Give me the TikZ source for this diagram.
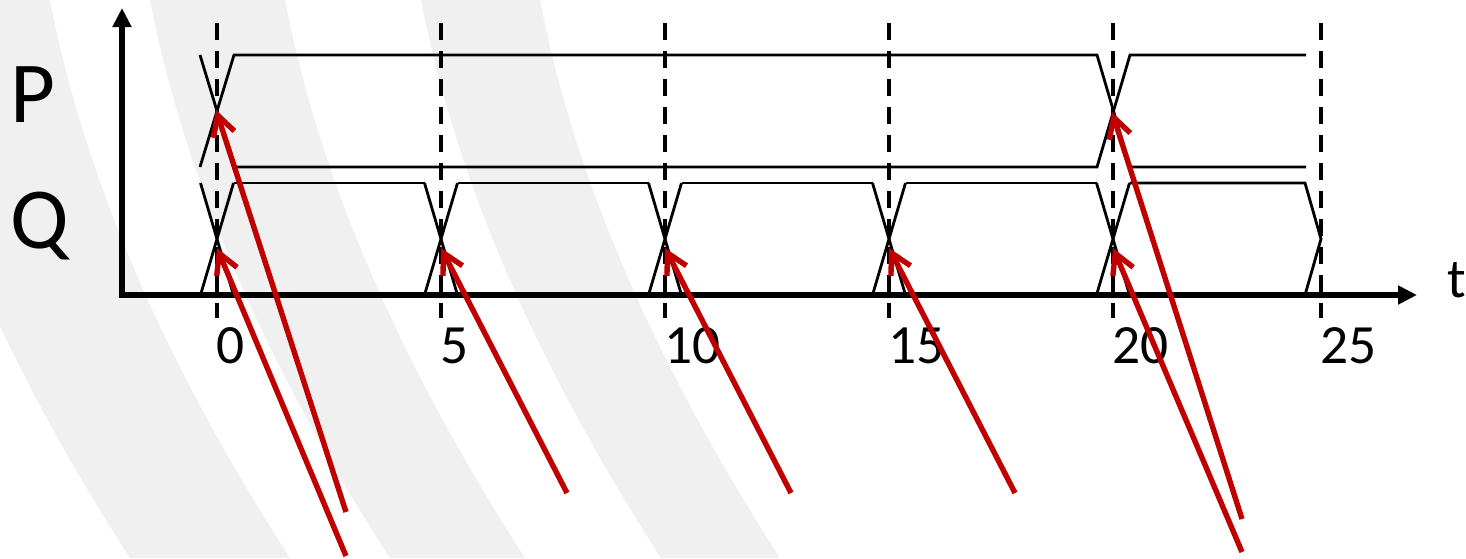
\documentclass[tikz,border=0pt]{standalone}
\usepackage{fontspec}
\setmainfont{Carlito}
\usepackage{tikz}
\usetikzlibrary{arrows.meta}
\definecolor{sigred}{RGB}{192,0,0}
\definecolor{bandc}{RGB}{240,240,240}

\begin{document}
\begin{tikzpicture}[x=0.5pt,y=-0.5pt,
  sig/.style={line width=1.4pt},
  clockline/.style={line width=1.7pt, dash pattern=on 8.5pt off 5.5pt},
  axis/.style={line width=2.6pt, line cap=rect, -{Triangle[length=9.5pt,width=9pt]}},
  cause/.style={sigred, line width=2.7pt, -{Straight Barb[length=10pt,width=11pt]}},
  every node/.style={inner sep=0pt, font=\fontsize{27.7}{32}\selectfont}]
  \useasboundingbox (0,0) rectangle (1466,558);
  \fill[white] (0,0) rectangle (1466,558);
  \begin{scope}
    \clip (0,0) rectangle (1466,558);
    \foreach \a/\b in {-110/50, 150/285, 421/540} {
      \fill[bandc] (\a,0) .. controls (\a+36,186) and (\a+120,372) .. (\a+240,558) -- (\b+240,558) .. controls (\b+120,372) and (\b+36,186) .. (\b,0) -- cycle;
    }
  \end{scope}
  \foreach \x/\n in {217/0, 441/5, 665/10, 889/15, 1113/20, 1321/25} {
    \draw[clockline] (\x,23) -- (\x,318);
    \node[anchor=base west] (lab\n) at (\x-1,363) {\n};
  }
  \node[anchor=base west, font=\fontsize{43.5}{50}\selectfont] (labP) at (10,122) {P};
  \node[anchor=base west, font=\fontsize{43.5}{50}\selectfont] (labQ) at (10,248) {Q};
  \node[anchor=base west] (labt) at (1447,297) {t};
  % P and Q
  \draw[sig] (200,55) -- (234,167) -- (1097,167) -- (1130,55) -- (1306,55);
  \draw[sig] (200,167) -- (234,55) -- (1097,55) -- (1130,167) -- (1306,167);
  \foreach \x in {217,441,665,889,1113} { \draw[sig] (\x-16.5,183) -- (\x+16.5,295); \draw[sig] (\x-16.5,295) -- (\x+16.5,183); }
  \foreach \x in {217,441,665,889} { \draw[sig] (\x+16.5,183) -- (\x+207.5,183); \draw[sig] (\x+16.5,295) -- (\x+207.5,295); }
  \draw[sig] (1129.5,183) -- (1305,183) -- (1321,239) -- (1305,295) -- (1129.5,295);
  \coordinate (origin) at (122,295);
  \coordinate (ytop) at (122,8);
  \coordinate (xend) at (1417,295);
  \draw[axis] (origin) -- (ytop);
  \draw[axis] (origin) -- (xend);
  % causes
  \coordinate (p0) at (216,110);
  \coordinate (p20) at (1112,112);
  \coordinate (tp0) at (346,512);
  \coordinate (tp20) at (1242,519);
  \coordinate (tq0) at (346,556);
  \coordinate (tq20) at (1242,552);
  \foreach \x/\n in {217/0,441/5,665/10,889/15,1113/20} \coordinate (q\n) at (\x,248);
  \foreach \x/\n in {441/5,665/10,889/15} \coordinate (tq\n) at (\x+126,493);
  \draw[cause] (tp0) -- (p0);
  \draw[cause] (tp20) -- (p20);
  \foreach \n in {0,5,10,15,20} \draw[cause] (tq\n) -- (q\n);
\end{tikzpicture}
\end{document}
